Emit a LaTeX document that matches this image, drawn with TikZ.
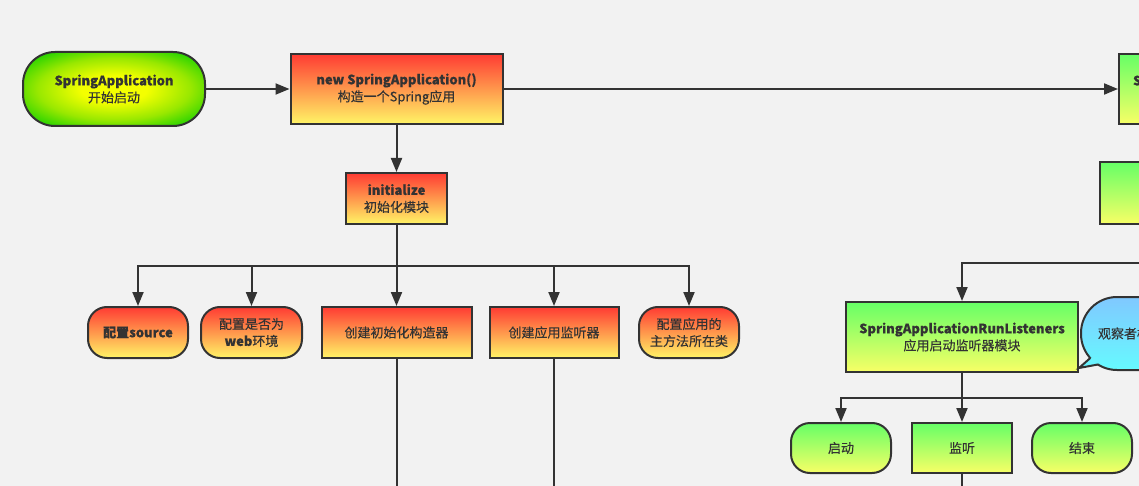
\documentclass[tikz,border=0pt]{standalone}
\usepackage{fontspec}
\setmainfont{Noto Sans CJK SC}[FakeBold=0.35]
\usetikzlibrary{arrows.meta,shapes.geometric,calc}
\definecolor{bgc}{HTML}{F2F2F2}
\definecolor{linec}{HTML}{333333}
\definecolor{redtop}{HTML}{FF3B33}
\definecolor{yelbot}{HTML}{FFF566}
\definecolor{grntop}{HTML}{66FF66}
\definecolor{grnbot}{HTML}{F8FF66}
\definecolor{bubtop}{HTML}{80C8FF}
\definecolor{bubbot}{HTML}{66FAFF}
\definecolor{startg}{HTML}{00CC00}
\definecolor{starty}{HTML}{F4FF00}
\definecolor{startm}{HTML}{99E800}
\pgfdeclareradialshading{startshade}{\pgfpoint{0bp}{0bp}}{color(0bp)=(starty); color(9bp)=(starty); color(21bp)=(startm); color(34bp)=(startg); color(50bp)=(startg)}
\tikzset{
  basebox/.style={draw=linec, line width=2pt, text=linec, font=\fontsize{13}{17}\selectfont, align=center, inner sep=0pt, rectangle},
  redbox/.style={basebox, top color=redtop, bottom color=yelbot},
  grnbox/.style={basebox, top color=grntop, bottom color=grnbot},
  pillshape/.style={rounded corners=19pt},
  conn/.style={draw=linec, line width=2pt},
  arr/.style={draw=linec, line width=2pt, -{Triangle[length=14pt,width=11pt]}},
}
\begin{document}
\begin{tikzpicture}[x=1pt,y=-1pt]
\useasboundingbox (0,0) rectangle (1139,486);
\fill[bgc] (0,0) rectangle (1139,486);
\clip (0,0) rectangle (1139,486);

% top row
\node[basebox, rounded corners=32pt, shading=startshade,
      minimum width=182pt, minimum height=74pt] (start) at (114,89)
      {\textbf{SpringApplication}\\开始启动};
\node[redbox, minimum width=212pt, minimum height=70pt] (new) at (396.5,89)
      {\textbf{new SpringApplication()}\\构造一个Spring应用};
\node[grnbox, minimum width=212pt, minimum height=70pt, text width=184pt, inner xsep=14pt, align=left] (run) at (1225,89)
      {\textbf{S}\\\mbox{}};
\node[redbox, minimum width=101pt, minimum height=51pt] (init) at (396.5,198.5)
      {\textbf{initialize}\\初始化模块};
\node[grnbox, minimum width=200pt, minimum height=62pt] (grn2) at (1200,193) {};

% left children
\node[redbox, pillshape, minimum width=100pt, minimum height=51pt] (c1) at (138,332.5) {\textbf{配置source}};
\node[redbox, pillshape, minimum width=101pt, minimum height=51pt] (c2) at (251.5,332.5) {配置是否为\\\textbf{web}环境};
\node[redbox, minimum width=150pt, minimum height=51pt] (c3) at (396.5,332.5) {创建初始化构造器};
\node[redbox, minimum width=129pt, minimum height=51pt] (c4) at (554,332.5) {创建应用监听器};
\node[redbox, pillshape, minimum width=100pt, minimum height=51pt] (c5) at (689,332.5) {配置应用的\\主方法所在类};

% right part
\node[grnbox, minimum width=232pt, minimum height=70pt] (lis) at (962,337)
      {\textbf{SpringApplicationRunListeners}\\应用启动监听器模块};
\node[basebox, rounded corners=36pt, top color=bubtop, bottom color=bubbot,
      minimum width=179pt, minimum height=73pt, text width=145pt, inner xsep=17pt, align=left] (bub) at (1170.5,333.5)
      {观察者模式};
\coordinate (bc) at (1117.5,333.5);
\coordinate (tip) at (1079,368);
\fill[bubbot!85!bubtop] ($(bc)+(138:36.5)$) -- (tip) -- ($(bc)+(122:36.5)$) -- ($(bc)+(130:30)$) -- cycle;
\draw[conn, line join=miter] ($(bc)+(138:36.5)$) -- (tip) -- ($(bc)+(122:36.5)$);

\node[grnbox, pillshape, minimum width=100pt, minimum height=50pt] (r1) at (841,448) {启动};
\node[grnbox, minimum width=100pt, minimum height=50pt] (r2) at (962,448) {监听};
\node[grnbox, pillshape, minimum width=100pt, minimum height=50pt] (r3) at (1082,448) {结束};

% connectors
\draw[arr] (start) -- (new);
\draw[arr] (new) -- (run);
\draw[arr] (new) -- (init);
\coordinate (j1) at (396.5,266);
\draw[conn] (init.south) -- (j1);
\draw[arr] (j1) -| (c1.north);
\draw[arr] (j1) -| (c2.north);
\draw[arr] (j1) -- (c3.north);
\draw[arr] (j1) -| (c4.north);
\draw[arr] (j1) -| (c5.north);
\coordinate (b3) at (396.5,495);
\coordinate (b4) at (554,495);
\draw[conn] (c3.south) -- (b3);
\draw[conn] (c4.south) -- (b4);

\coordinate (jr) at (1150,263);
\draw[arr] (jr) -| (lis.north);
\coordinate (j2) at (962,398);
\draw[conn] (lis.south) -- (j2);
\draw[arr] (j2) -| (r1.north);
\draw[arr] (j2) -- (r2.north);
\draw[arr] (j2) -| (r3.north);
\coordinate (b5) at (962,495);
\draw[conn] (r2.south) -- (b5);
\end{tikzpicture}
\end{document}
